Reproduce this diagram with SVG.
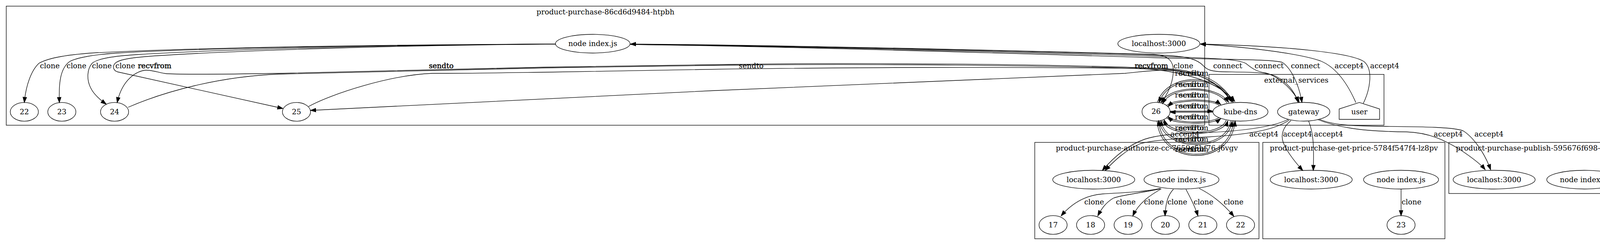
<svg xmlns="http://www.w3.org/2000/svg" width="4184" height="628" viewBox="0 0 4184 628">
<style>
text { font-family: "DejaVu Serif", "Liberation Serif", serif; font-size: 18.67px; fill: #000; text-anchor: middle; }
.cl { fill: none; stroke: #000; stroke-width: 1.33; }
.nd ellipse, .nd polygon { fill: none; stroke: #000; stroke-width: 1.33; }
#edges path { fill: none; stroke: #000; stroke-width: 1.33; marker-end: url(#ah); }
#edges path.both { marker-start: url(#ahs); }
.bd { stroke: #000; stroke-width: 0.55; }
</style>
<defs>
<marker id="ah" markerUnits="userSpaceOnUse" markerWidth="16" markerHeight="12" refX="13.3" refY="4.67" orient="auto" overflow="visible"><path d="M0,0 L13.3,4.67 L0,9.33 Z" fill="#000" stroke="#000" stroke-width="1.33"/></marker>
<marker id="ahs" markerUnits="userSpaceOnUse" markerWidth="16" markerHeight="12" refX="13.3" refY="4.67" orient="auto-start-reverse" overflow="visible"><path d="M0,0 L13.3,4.67 L0,9.33 Z" fill="#000" stroke="#000" stroke-width="1.33"/></marker>
</defs>
<rect x="0" y="0" width="4184" height="628" fill="#fff"/>

<g id="clusters">
<g id="cluster-purchase"><rect class="cl" x="16" y="15.7" width="3068" height="305.3"/><text x="1550" y="36.5">product-purchase-86cd6d9484-htpbh</text></g>
<g id="cluster-external"><rect class="cl" x="3095" y="190.7" width="448" height="130.3"/><text x="3318.5" y="211.5">external_services</text></g>
<g id="cluster-authorize"><rect class="cl" x="2649" y="365" width="574" height="247"/><text x="2936" y="386">product-purchase-authorize-cc-7659c5bf76-j6vgv</text></g>
<g id="cluster-getprice"><rect class="cl" x="3232.7" y="365" width="466.3" height="247"/><text x="3466" y="386">product-purchase-get-price-5784f547f4-lz8pv</text></g>
<g id="cluster-publish"><rect class="cl" x="3709" y="365" width="459.3" height="131"/><text x="3938.7" y="386">product-purchase-publish-595676f698-x7xxc</text></g>
</g>

<g id="edges">
<path d="M1422,113 C1000,114 500,122 250,135 C180,139 125,148 100,162 C80,180 66,220 62.3,262.7"/>
<path d="M1422,113 C1000,114.5 500,124 300,136 C240,140 195,148 178,158 C155,175 150,210 152,263"/>
<path d="M1422,113 C1000,115 550,127 350,140 C290,144 250,150 236,162 C222,178 222,205 232,225 C240,242 255,255 272,267"/>
<path d="M1422,113 C1000,116 600,130 400,143 C340,147 305,152 295,162 C287,170 290,180 300,184 L724,278"/>
<path class="both" d="M1614,113 C2000,115 2600,130 2950,139 C2985,141 3000,152 3003,172 C3006,200 2995,235 2972,262.5"/>
<path d="M1614,114 C2000,117 2700,133 2960,141 C3040,143 3065,152 3080,168 C3090,179 3100,183 3130,184 C3190,185 3240,184 3265,195 C3295,210 3315,235 3323,262"/>
<path d="M1614,114 C2000,118 2700,136 2960,144 C3100,149 3170,151 3190,163 C3205,175 3215,183 3240,187 C3262,192 3302,217 3326,262"/>
<path d="M1614,114 C2000,119 2700,140 2960,148 C3150,153 3262,152 3283,160 C3305,175 3325,215 3333,262.5"/>
<path d="M3471,263 C3450,215 3420,172 3380,156 C3330,138 3200,121 3073,113"/>
<path d="M3490,265 C3505,235 3518,180 3492,158 C3460,136 3300,118 3073,113"/>
<path d="M3157,262 C3130,210 3075,180 2985,176 C2700,164 2200,160 1880,165 C1700,168 1550,170 1400,172 C1100,177 850,186 714,188 C600,190 470,191 428,189 C410,188 395,180 375,180 C350,180 312,205 300,263"/>
<path d="M328,275 C420,235 560,196 714,190 C850,187 1100,179 1400,174 C1600,171 1700,169 1880,167 C2200,163 2700,167 2985,178 C3070,183 3120,212 3152,260"/>
<path d="M790,273 C850,240 1000,192 1107,188 L1143,188 C1300,187 1350,185.5 1400,185 C1600,182 1750,178 1880,176.7 C2200,173 2500,171 2900,175 C2990,177 3110,198 3161,260"/>
<path d="M3155,262 C3120,205 3060,182 2985,180 C2940,180 2915,185 2880,188 C2400,205 1300,255 795,283"/>
<path d="M2963,262 C2990,185 3120,185 3157,261"/>
<path d="M3153,262 C3118,189 2993,189 2967,263"/>
<path d="M2972,264 C2995,216 3115,216 3145,262"/>
<path d="M3141,264 C3112,219 2998,219 2976,266"/>
<path d="M2987,270 C3005,252 3105,252 3125,268"/>
<path d="M3121,270 C3102,255 3008,255 2990,273"/>
<path d="M2995.5,285 L3105,285"/>
<path d="M3105,287.5 L2995.5,287.5"/>
<path d="M2987,302 C3005,320 3105,320 3125,304"/>
<path d="M3121,301 C3102,317 3008,317 2990,299"/>
<path d="M2976,309 C2990,353 3130,353 3143,310"/>
<path d="M3139,308 C3126,349 2994,349 2980,307"/>
<path d="M2968,310 C2980,391 3145,391 3154,311"/>
<path d="M3150,310 C3141,387 2984,387 2972,309"/>
<path d="M2962,310 C2972,428 3152,428 3162,310"/>
<path d="M3158,309 C3148,424 2976,424 2966,309"/>
<path d="M3298,306 C3250,330 3150,338 3060,341 C3000,343 2960,347 2930,357 C2880,375 2845,410 2822,437"/>
<path d="M3300,308 C3260,335 3190,345 3093,351 C3000,355 2950,360 2920,368 C2880,385 2850,415 2829,437"/>
<path d="M3305,309 C3285,325 3278,345 3285,365 C3295,390 3315,415 3335,437"/>
<path d="M3350,310 C3362,340 3364,370 3362,437"/>
<path d="M3372,306 C3420,325 3480,337 3600,338 C3660,340 3700,360 3740,385 C3770,405 3790,420 3802,435"/>
<path d="M3376,305 C3410,320 3450,323 3550,324 C3650,325 3720,326 3745,335 C3770,350 3800,390 3816,435"/>
<path d="M2971,483 C2930,492 2870,494 2824,497 C2780,500 2745,520 2716.5,553.3"/>
<path d="M2970,484 C2920,495 2870,500 2850,508 C2830,520 2820,535 2810.3,553.3"/>
<path d="M2973,484 C2945,500 2915,520 2900,553.3"/>
<path d="M3004,485 C2992,498 2984,515 2982.5,553.3"/>
<path d="M3036,485 C3046,505 3058,525 3066.7,553.3"/>
<path d="M3070,483 C3100,498 3130,520 3158.6,554.5"/>
<path d="M3586.7,484.5 L3586.7,553"/>
</g>

<g id="edge-labels">
<text x="127.5" y="175.3">clone</text>
<text x="195.8" y="175.3">clone</text>
<text x="260.8" y="175.3">clone</text>
<text x="320.8" y="175.3">clone</text>
<text class="bd" x="395.8" y="175.3">recvfrom</text>
<text class="bd" x="1129.6" y="175.3">sendto</text>
<text x="1923" y="175.3">sendto</text>
<text class="bd" x="2947.5" y="175.3">recvfrom</text>
<text x="3029.5" y="175.3">clone</text>
<text x="3143" y="175.3">connect</text>
<text x="3249" y="175.3">connect</text>
<text x="3342" y="175.3">connect</text>
<text x="3453.8" y="175.3">accept4</text>
<text x="3544.8" y="175.3">accept4</text>
<text x="3050.5" y="194.3">recvfrom</text><text x="3050.5" y="194.3">sendto</text>
<text x="3050.5" y="222.7">recvfrom</text><text x="3050.5" y="222.7">sendto</text>
<text x="3050.5" y="250.3">recvfrom</text><text x="3050.5" y="250.3">sendto</text>
<text x="3050.5" y="278.3">recvfrom</text><text x="3050.5" y="278.3">sendto</text>
<text x="3050.5" y="306">recvfrom</text><text x="3050.5" y="306">sendto</text>
<text x="3050.5" y="334.3">recvfrom</text><text x="3050.5" y="334.3">sendto</text>
<text x="3050.5" y="362.7">recvfrom</text><text x="3050.5" y="362.7">sendto</text>
<text x="3050.5" y="389.3">recvfrom</text><text x="3050.5" y="389.3">sendto</text>
<text x="3033.5" y="350">accept4</text>
<text x="3235.5" y="350">accept4</text>
<text x="3321.7" y="350">accept4</text>
<text x="3401" y="350">accept4</text>
<text x="3707.5" y="350">accept4</text>
<text x="3811.8" y="350">accept4</text>
<text x="2801" y="524.3">clone</text>
<text x="2882" y="524.3">clone</text>
<text x="2954" y="524.3">clone</text>
<text x="3014" y="524.3">clone</text>
<text x="3081" y="524.3">clone</text>
<text x="3158" y="524.3">clone</text>
<text x="3613.5" y="524.3">clone</text>
</g>

<g id="n-top-index" class="nd"><ellipse cx="1517.5" cy="112" rx="95.5" ry="24"/><text x="1517.5" y="118">node index.js</text></g>
<g id="n-top-localhost" class="nd"><ellipse cx="2966.7" cy="112" rx="105" ry="24"/><text x="2966.7" y="118">localhost:3000</text></g>
<g id="n-top-22" class="nd"><ellipse cx="62.3" cy="286.7" rx="36" ry="24"/><text x="62.3" y="292.7">22</text></g>
<g id="n-top-23" class="nd"><ellipse cx="158.3" cy="286.7" rx="36" ry="24"/><text x="158.3" y="292.7">23</text></g>
<g id="n-top-24" class="nd"><ellipse cx="293.3" cy="286.7" rx="36" ry="24"/><text x="293.3" y="292.7">24</text></g>
<g id="n-top-25" class="nd"><ellipse cx="759" cy="286.7" rx="36" ry="24"/><text x="759" y="292.7">25</text></g>
<g id="n-top-26" class="nd"><ellipse cx="2959.5" cy="286.3" rx="36" ry="24"/><text x="2959.5" y="292.3">26</text></g>
<g id="n-kube-dns" class="nd"><ellipse cx="3175.5" cy="286.5" rx="70.5" ry="24"/><text x="3175.5" y="292.5">kube-dns</text></g>
<g id="n-gateway" class="nd"><ellipse cx="3337.5" cy="286.5" rx="67" ry="24"/><text x="3337.5" y="292.5">gateway</text></g>
<g id="n-user" class="nd"><polygon points="3531.7,306 3428.3,306 3428.3,279.3 3480,262.7 3531.7,279.3"/><text x="3480" y="292.5">user</text></g>
<g id="n-auth-localhost" class="nd"><ellipse cx="2800" cy="460.5" rx="105" ry="24"/><text x="2800" y="466.5">localhost:3000</text></g>
<g id="n-auth-index" class="nd"><ellipse cx="3024.6" cy="460.5" rx="96" ry="24"/><text x="3024.6" y="466.5">node index.js</text></g>
<g id="n-auth-17" class="nd"><ellipse cx="2695.9" cy="576.7" rx="36" ry="24"/><text x="2695.9" y="582.7">17</text></g>
<g id="n-auth-18" class="nd"><ellipse cx="2791.9" cy="576.7" rx="36" ry="24"/><text x="2791.9" y="582.7">18</text></g>
<g id="n-auth-19" class="nd"><ellipse cx="2888" cy="576.7" rx="36" ry="24"/><text x="2888" y="582.7">19</text></g>
<g id="n-auth-20" class="nd"><ellipse cx="2983.3" cy="576.7" rx="36" ry="24"/><text x="2983.3" y="582.7">20</text></g>
<g id="n-auth-21" class="nd"><ellipse cx="3079.3" cy="576.7" rx="36" ry="24"/><text x="3079.3" y="582.7">21</text></g>
<g id="n-auth-22" class="nd"><ellipse cx="3175.8" cy="576.7" rx="36" ry="24"/><text x="3175.8" y="582.7">22</text></g>
<g id="n-price-localhost" class="nd"><ellipse cx="3356.7" cy="460.5" rx="105" ry="24"/><text x="3356.7" y="466.5">localhost:3000</text></g>
<g id="n-price-index" class="nd"><ellipse cx="3586.7" cy="460.5" rx="96" ry="24"/><text x="3586.7" y="466.5">node index.js</text></g>
<g id="n-price-23" class="nd"><ellipse cx="3586.7" cy="576.7" rx="36" ry="24"/><text x="3586.7" y="582.7">23</text></g>
<g id="n-pub-localhost" class="nd"><ellipse cx="3825" cy="460.5" rx="105" ry="24"/><text x="3825" y="466.5">localhost:3000</text></g>
<g id="n-pub-index" class="nd"><ellipse cx="4055.7" cy="460.5" rx="96" ry="24"/><text x="4055.7" y="466.5">node index.js</text></g>
</svg>
